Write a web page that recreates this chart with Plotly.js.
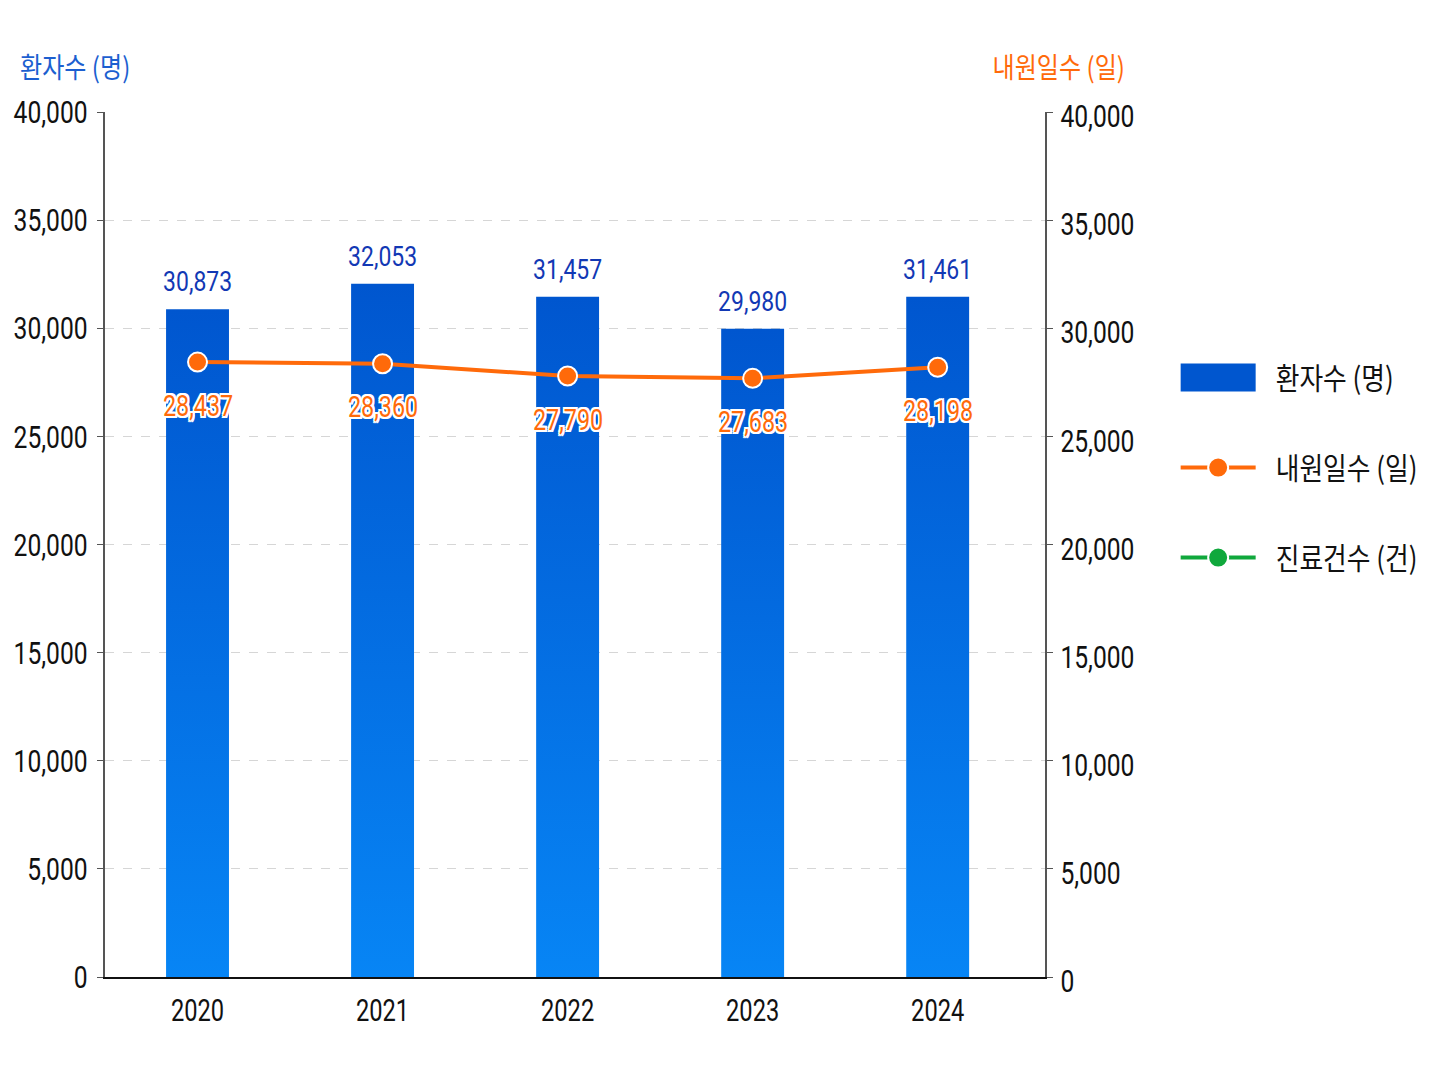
<!DOCTYPE html>
<html>
<head>
<meta charset="utf-8">
<script src="https://cdn.plot.ly/plotly-3.0.1.min.js"></script>
<style>
  html, body { margin: 0; padding: 0; background: #fff; }
  #chart { width: 1448px; height: 1086px; }
</style>
</head>
<body>
<div id="chart"></div>
<script>
// values
const years = ['2020', '2021', '2022', '2023', '2024'];
const patients = [30873, 32053, 31457, 29980, 31461];   // 환자수 (명)
const visitDays = [28437, 28360, 27790, 27683, 28198];  // 내원일수 (일)
const cases = [null, null, null, null, null];            // 진료건수 (건) - legend only

const yTicks = [0, 5000, 10000, 15000, 20000, 25000, 30000, 35000, 40000];
const yTickText = ['0', '5,000', '10,000', '15,000', '20,000', '25,000', '30,000', '35,000', '40,000'];

const BLUE = '#0056cf';
const BLUE_LIGHT = '#0785f5';
const ORANGE = '#ff6a0a';
const GREEN = '#10a83c';
const NUM = 'Roboto, "Noto Sans", sans-serif';
const KR = '"Noto Sans CJK KR", "Noto Sans", sans-serif';

const outline = '2px 2px 0 #fff, -2px -2px 0 #fff, 2px -2px 0 #fff, -2px 2px 0 #fff, 0 2px 0 #fff, 0 -2px 0 #fff, 2px 0 0 #fff, -2px 0 0 #fff';
const fmt = v => v.toLocaleString('en-US');

const data = [
  {
    type: 'bar',
    name: '환자수 (명)',
    x: years,
    y: patients,
    marker: { color: BLUE },
    legendgroup: 'a',
    hoverinfo: 'x+y',
  },
  {
    type: 'scatter',
    mode: 'lines+markers',
    name: '내원일수 (일)',
    x: years,
    y: visitDays,
    yaxis: 'y2',
    line: { color: ORANGE, width: 4 },
    marker: { color: ORANGE, size: 19, line: { color: '#fff', width: 2 } },
    cliponaxis: false,
    legendgroup: 'b',
  },
  {
    type: 'scatter',
    mode: 'lines+markers',
    name: '진료건수 (건)',
    x: years,
    y: cases,
    yaxis: 'y2',
    line: { color: GREEN, width: 4 },
    marker: { color: GREEN, size: 19, line: { color: '#fff', width: 2 } },
    legendgroup: 'c',
  },
];

const annotations = [];
years.forEach((yr, i) => {
  annotations.push({
    x: i, y: patients[i], xref: 'x', yref: 'y',
    text: fmt(patients[i]), showarrow: false,
    yanchor: 'bottom', yshift: 9,
    font: { family: NUM, size: 27, color: '#1238b4' },
    name: 'barlab',
  });
  annotations.push({
    x: i, y: visitDays[i], xref: 'x', yref: 'y2',
    text: fmt(visitDays[i]), showarrow: false,
    yanchor: 'middle', yshift: -43,
    font: { family: NUM, size: 30, color: ORANGE, shadow: outline },
    name: 'linelab',
  });
});

annotations.push(
  {
    xref: 'paper', yref: 'paper', x: -0.0926, y: 1.053,
    xanchor: 'left', yanchor: 'middle',
    text: '환자수 (명)', showarrow: false,
    font: { family: KR, size: 28, color: '#1c5fd0' },
    name: 'titleL',
  },
  {
    xref: 'paper', yref: 'paper', x: 1.087, y: 1.053,
    xanchor: 'right', yanchor: 'middle',
    text: '내원일수 (일)', showarrow: false,
    font: { family: KR, size: 28, color: ORANGE },
    name: 'titleR',
  }
);

const axisCommon = {
  range: [0, 40000],
  tickvals: yTicks,
  ticktext: yTickText,
  ticks: 'outside',
  ticklen: 6,
  tickcolor: '#555',
  showline: true,
  linecolor: '#555',
  linewidth: 2,
  tickfont: { family: NUM, size: 32, color: '#111' },
  zeroline: false,
  fixedrange: true,
};

const layout = {
  width: 1448,
  height: 1086,
  margin: { l: 105, r: 403, t: 112, b: 109 },
  paper_bgcolor: '#fff',
  plot_bgcolor: '#fff',
  showlegend: true,
  bargap: 0.66,
  xaxis: {
    type: 'category',
    range: [-0.5, 4.58],
    showline: true,
    linecolor: '#111',
    linewidth: 2,
    ticks: '',
    tickfont: { family: NUM, size: 32, color: '#111' },
    ticklabelstandoff: 4,
    fixedrange: true,
  },
  yaxis: {
    ...axisCommon,
    showgrid: true,
    gridcolor: '#d6d6d6',
    griddash: 'dash',
    gridwidth: 1,
    ticklabelstandoff: 3,
  },
  yaxis2: {
    ...axisCommon,
    overlaying: 'y',
    side: 'right',
    showgrid: false,
    ticklabelstandoff: 1,
  },
  legend: {
    x: 1.139,
    y: 0.723,
    xanchor: 'left',
    yanchor: 'top',
    font: { family: KR, size: 30, color: '#111' },
    itemwidth: 75,
    tracegroupgap: 48,
    traceorder: 'grouped',
    bgcolor: 'rgba(0,0,0,0)',
  },
  annotations: annotations,
};

// squeeze text horizontally (condensed look of the reference) around one edge,
// optionally moving it by dx, dy afterwards
function squeeze(nodes, f, keep, dx = 0, dy = 0) {
  nodes.forEach(el => {
    const b = el.getBBox();
    if (!(b.width > 0)) return;
    const ax = keep === 'left' ? b.x : keep === 'right' ? b.x + b.width : b.x + b.width / 2;
    const prev = el.getAttribute('transform') || '';
    el.setAttribute('transform',
      `${prev} translate(${ax + dx},${dy}) scale(${f},1) translate(${-ax},0)`);
  });
}

Plotly.newPlot('chart', data, layout, { displayModeBar: false, responsive: false }).then(gd => {
  // vertical gradient on the bars
  const svg = gd.querySelector('svg.main-svg');
  const ns = 'http://www.w3.org/2000/svg';
  let defs = svg.querySelector('defs');
  if (!defs) { defs = document.createElementNS(ns, 'defs'); svg.insertBefore(defs, svg.firstChild); }
  const grad = document.createElementNS(ns, 'linearGradient');
  grad.setAttribute('id', 'barGrad');
  grad.setAttribute('x1', '0'); grad.setAttribute('y1', '0');
  grad.setAttribute('x2', '0'); grad.setAttribute('y2', '1');
  [[0, BLUE], [1, BLUE_LIGHT]].forEach(([off, col]) => {
    const s = document.createElementNS(ns, 'stop');
    s.setAttribute('offset', off);
    s.setAttribute('stop-color', col);
    grad.appendChild(s);
  });
  defs.appendChild(grad);
  gd.querySelectorAll('.barlayer .point path').forEach(p => { p.style.fill = 'url(#barGrad)'; });

  // wide rectangle swatch for the bar legend entry, same span as the line swatches
  const lineSym = gd.querySelectorAll('.legend .js-line')[0];
  const barSym = gd.querySelector('.legend .legendpoints path');
  if (lineSym && barSym) {
    const lr = lineSym.getBoundingClientRect();
    const br = barSym.getBoundingClientRect();
    const cx = br.left + br.width / 2;
    barSym.setAttribute('d', `M${lr.left - cx},-14H${lr.right - cx}V14H${lr.left - cx}Z`);
  }
  // bigger legend markers
  gd.querySelectorAll('.legend path.scatterpts').forEach(p => {
    p.setAttribute('d', 'M10,0A10,10 0 1,1 0,-10A10,10 0 0,1 10,0Z');
  });

  // condensed look
  squeeze(gd.querySelectorAll('.ytick text'), 0.77, 'right');
  squeeze(gd.querySelectorAll('.y2tick text'), 0.77, 'left', 0, 4);
  squeeze(gd.querySelectorAll('.xtick text'), 0.74, 'center');
  const annTexts = gd.querySelectorAll('.annotation .annotation-text');
  annotations.forEach((a, i) => {
    const el = annTexts[i];
    if (!el) return;
    if (a.name === 'barlab') squeeze([el], 0.85, 'center');
    else if (a.name === 'linelab') squeeze([el], 0.78, 'center');
    else if (a.name === 'titleL') squeeze([el], 0.86, 'left');
    else squeeze([el], 0.86, 'right');
  });
  squeeze(gd.querySelectorAll('.legend .legendtext'), 0.86, 'left', 15, 0);
});
</script>
</body>
</html>
